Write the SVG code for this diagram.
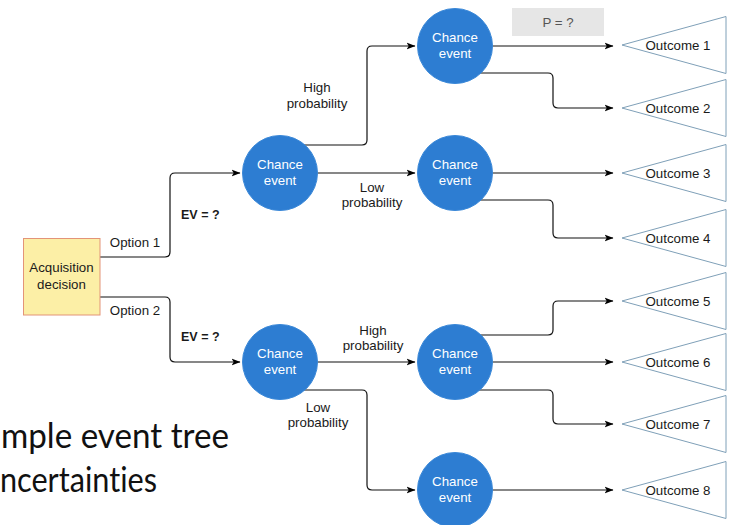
<svg xmlns="http://www.w3.org/2000/svg" width="731" height="525" viewBox="0 0 731 525">
  <defs>
    <marker id="arrow" markerWidth="10" markerHeight="8" refX="8.5" refY="4" orient="auto" markerUnits="userSpaceOnUse">
      <path d="M0,0.5 L9,4 L0,7.5 L2.2,4 Z" fill="#000"/>
    </marker>
    <style>
      .edge { fill: none; stroke: #111; stroke-width: 1.2; marker-end: url(#arrow); }
      .chance { fill: #2d7dd2; stroke: #3a88d8; stroke-width: 1; }
      .chance-t { font-family: "Liberation Sans", Arial, sans-serif; font-size: 13.3px; fill: #fff; text-anchor: middle; }
      .outcome { fill: #fff; stroke: #7fa0b8; stroke-width: 1; }
      .lbl { font-family: "Liberation Sans", Arial, sans-serif; font-size: 13.3px; fill: #1a1a1a; text-anchor: middle; }
      .ev { font-family: "Liberation Sans", Arial, sans-serif; font-size: 12.5px; font-weight: bold; fill: #1a1a1a; }
      .title { font-family: Lato, "Noto Sans", sans-serif; font-size: 34px; fill: #111; font-variant-ligatures: none; }
    </style>
  </defs>

  <rect width="731" height="525" fill="#fff"/>

  <!-- connectors -->
  <g id="connectors">
    <path class="edge" d="M100,257 H165 Q170,257 170,252 V178 Q170,173 175,173 H240"/>
    <path class="edge" d="M100,297 H165 Q170,297 170,302 V357 Q170,362 175,362 H240"/>

    <path class="edge" d="M300,145 H362 Q367,145 367,140 V51 Q367,46 372,46 H415"/>
    <path class="edge" d="M300,173 H415"/>
    <path class="edge" d="M300,362 H415"/>
    <path class="edge" d="M300,390 H362 Q367,390 367,395 V485 Q367,490 372,490 H415"/>

    <path class="edge" d="M470,46 H613"/>
    <path class="edge" d="M470,73 H548 Q553,73 553,78 V103 Q553,108 558,108 H613"/>
    <path class="edge" d="M470,173 H613"/>
    <path class="edge" d="M470,200 H548 Q553,200 553,205 V233 Q553,238 558,238 H613"/>
    <path class="edge" d="M470,335 H548 Q553,335 553,330 V306 Q553,301 558,301 H613"/>
    <path class="edge" d="M470,362 H613"/>
    <path class="edge" d="M470,390 H548 Q553,390 553,395 V419 Q553,424 558,424 H613"/>
    <path class="edge" d="M470,490 H613"/>
  </g>

  <!-- edge labels -->
  <g id="edge-labels">
    <text class="lbl" x="135" y="247">Option 1</text>
    <text class="lbl" x="135" y="315">Option 2</text>
    <text class="ev" x="181" y="219">EV = ?</text>
    <text class="ev" x="181" y="341">EV = ?</text>
    <text class="lbl" x="317" y="92">High</text>
    <text class="lbl" x="317" y="107.5">probability</text>
    <text class="lbl" x="372" y="191.5">Low</text>
    <text class="lbl" x="372" y="207">probability</text>
    <text class="lbl" x="373" y="334.5">High</text>
    <text class="lbl" x="373" y="350">probability</text>
    <text class="lbl" x="318" y="411.5">Low</text>
    <text class="lbl" x="318" y="427">probability</text>
  </g>

  <!-- probability note -->
  <g id="p-note">
    <rect x="512" y="8" width="92" height="28" fill="#e6e6e6"/>
    <text x="558" y="26.5" font-family="Liberation Sans, Arial, sans-serif" font-size="13.3" fill="#555" text-anchor="middle">P = ?</text>
  </g>

  <!-- decision node -->
  <g id="decision">
    <rect x="23.5" y="238.5" width="76.5" height="76.5" fill="#fcefa6" stroke="#e39478" stroke-width="1"/>
    <text class="lbl" x="61.5" y="272">Acquisition</text>
    <text class="lbl" x="61.5" y="288.5">decision</text>
  </g>

  <!-- chance nodes -->
  <g id="chance-a">
    <circle class="chance" cx="280" cy="173" r="37.5"/>
    <text class="chance-t" x="280" y="168.5">Chance</text>
    <text class="chance-t" x="280" y="184.5">event</text>
  </g>
  <g id="chance-b">
    <circle class="chance" cx="280" cy="362" r="37.5"/>
    <text class="chance-t" x="280" y="357.5">Chance</text>
    <text class="chance-t" x="280" y="373.5">event</text>
  </g>
  <g id="chance-c">
    <circle class="chance" cx="455" cy="46" r="37.5"/>
    <text class="chance-t" x="455" y="41.5">Chance</text>
    <text class="chance-t" x="455" y="57.5">event</text>
  </g>
  <g id="chance-d">
    <circle class="chance" cx="455" cy="173" r="37.5"/>
    <text class="chance-t" x="455" y="168.5">Chance</text>
    <text class="chance-t" x="455" y="184.5">event</text>
  </g>
  <g id="chance-e">
    <circle class="chance" cx="455" cy="362" r="37.5"/>
    <text class="chance-t" x="455" y="357.5">Chance</text>
    <text class="chance-t" x="455" y="373.5">event</text>
  </g>
  <g id="chance-f">
    <circle class="chance" cx="455" cy="490" r="37.5"/>
    <text class="chance-t" x="455" y="485.5">Chance</text>
    <text class="chance-t" x="455" y="501.5">event</text>
  </g>

  <!-- outcome nodes -->
  <g id="outcome-1">
    <path class="outcome" d="M622,45 L726,16.5 V73.5 Z"/>
    <text class="lbl" x="678" y="49.5">Outcome 1</text>
  </g>
  <g id="outcome-2">
    <path class="outcome" d="M622,108 L726,79.5 V136.5 Z"/>
    <text class="lbl" x="678" y="112.5">Outcome 2</text>
  </g>
  <g id="outcome-3">
    <path class="outcome" d="M622,173 L726,144.5 V201.5 Z"/>
    <text class="lbl" x="678" y="177.5">Outcome 3</text>
  </g>
  <g id="outcome-4">
    <path class="outcome" d="M622,238 L726,209.5 V266.5 Z"/>
    <text class="lbl" x="678" y="242.5">Outcome 4</text>
  </g>
  <g id="outcome-5">
    <path class="outcome" d="M622,301 L726,272.5 V329.5 Z"/>
    <text class="lbl" x="678" y="305.5">Outcome 5</text>
  </g>
  <g id="outcome-6">
    <path class="outcome" d="M622,362 L726,333.5 V390.5 Z"/>
    <text class="lbl" x="678" y="366.5">Outcome 6</text>
  </g>
  <g id="outcome-7">
    <path class="outcome" d="M622,424 L726,395.5 V452.5 Z"/>
    <text class="lbl" x="678" y="428.5">Outcome 7</text>
  </g>
  <g id="outcome-8">
    <path class="outcome" d="M622,490 L726,461.5 V518.5 Z"/>
    <text class="lbl" x="678" y="494.5">Outcome 8</text>
  </g>

  <!-- slide title, clipped at the left edge -->
  <g id="title">
    <text class="title" x="1" y="448" textLength="228" lengthAdjust="spacingAndGlyphs">mple event tree</text>
    <text class="title" x="0" y="492" textLength="157" lengthAdjust="spacingAndGlyphs">ncertainties</text>
  </g>
</svg>
